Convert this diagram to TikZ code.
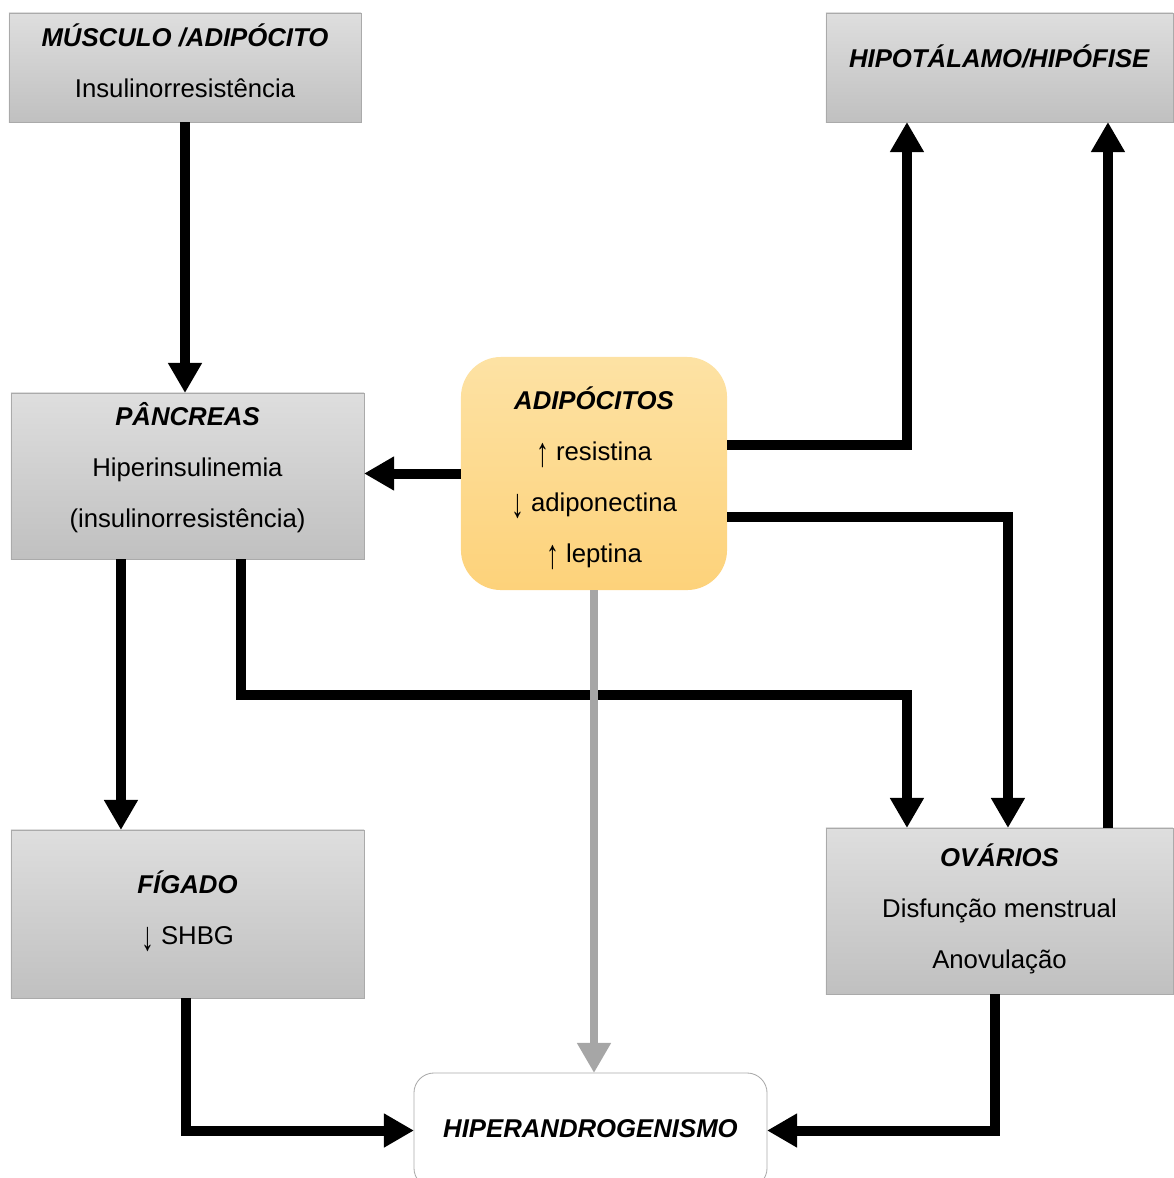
\documentclass[tikz,border=0pt]{standalone}
\usepackage{fontspec}
\setmainfont{Liberation Sans}
\usepackage{xcolor}
\usepackage{tikz}
\usetikzlibrary{arrows.meta, positioning, calc}

\definecolor{caixaTopo}{RGB}{222,222,222}
\definecolor{caixaBase}{RGB}{192,192,192}
\definecolor{caixaBorda}{RGB}{170,170,170}
\definecolor{adipoTopo}{RGB}{253,226,164}
\definecolor{adipoBase}{RGB}{253,210,122}
\definecolor{setaCinza}{RGB}{166,166,166}

\newcommand{\titulo}[1]{\textbf{\textit{#1}}}
\newcommand{\sobe}{\raisebox{-0.22em}{\scalebox{1}[1.6]{↑}}}
\newcommand{\desce}{\raisebox{-0.22em}{\scalebox{1}[1.6]{↓}}}

\tikzset{
    caixa/.style={draw=caixaBorda, line width=0.6pt, top color=caixaTopo, bottom color=caixaBase,
        inner sep=0pt, outer sep=0pt},
    caixaadipo/.style={caixa, draw=none, top color=adipoTopo, bottom color=adipoBase, rounded corners=1cm},
    caixafinal/.style={caixa, fill=white, top color=white, bottom color=white, rounded corners=0.5cm},
    texto/.style={align=center, inner sep=0pt, font=\fontsize{18.3}{36.3}\selectfont},
    seta/.style={line width=0.25cm, -{Triangle[length=0.75cm, width=0.8cm]}},
    setacinza/.style={seta, draw=setaCinza, line width=0.22cm}
}

\begin{document}
\begin{tikzpicture}[x=0.025cm, y=-0.025cm]
    \useasboundingbox (0,0) rectangle (1173,1178);

    % caixas
    \node[caixa, minimum width=8.8cm, minimum height=2.725cm] (musculo) at (185,67.5) {};
    \node[caixa, minimum width=8.675cm, minimum height=2.725cm] (hipo) at (999.5,67.5) {};
    \node[caixa, minimum width=8.825cm, minimum height=4.15cm] (pancreas) at (187.5,476) {};
    \node[caixaadipo, minimum width=6.65cm, minimum height=5.825cm] (adipo) at (594,473.5) {};
    \node[caixa, minimum width=8.825cm, minimum height=4.2cm] (figado) at (187.5,914) {};
    \node[caixa, minimum width=8.675cm, minimum height=4.15cm] (ovarios) at (999.5,911) {};
    \node[caixafinal, minimum width=8.825cm, minimum height=2.875cm] (hiper) at (590.5,1130.5) {};

    % textos
    \node[texto] (musculoT) at (185,61) {\titulo{MÚSCULO /ADIPÓCITO}\\Insulinorresistência};
    \node[texto] (hipoT) at (999.5,56) {\titulo{HIPOTÁLAMO/HIPÓFISE}};
    \node[texto] (pancreasT) at (187.5,468) {\titulo{PÂNCREAS}\\Hiperinsulinemia\\(insulinorresistência)};
    \node[texto] (adipoT) at (594,478) {\titulo{ADIPÓCITOS}\\\sobe\ resistina\\\desce\ adiponectina\\\sobe\ leptina};
    \node[texto] (figadoT) at (187.5,911) {\titulo{FÍGADO}\\\desce\ SHBG};
    \node[texto] (ovariosT) at (999.5,909) {\titulo{OVÁRIOS}\\Disfunção menstrual\\Anovulação};
    \node[texto] (hiperT) at (590.5,1129) {\titulo{HIPERANDROGENISMO}};

    % setas
    \draw[seta] (musculo.south) -- (musculo.south |- pancreas.north);
    \draw[seta] (adipo.west) -- (adipo.west -| pancreas.east);
    \draw[seta] ($(adipo.north east)+(0,88)$) -| ($(hipo.south west)+(81,0)$);
    \draw[seta] ($(adipo.north east)+(0,160)$) -| ($(ovarios.north west)+(182,0)$);
    \draw[seta] ($(pancreas.south west)+(110,0)$) -- ($(figado.north west)+(110,0)$);
    \draw[seta] ($(pancreas.south west)+(230,0)$) -- ++(0,136) -| ($(ovarios.north west)+(81,0)$);
    \draw[seta] ($(ovarios.north west)+(282,0)$) -- ($(hipo.south west)+(282,0)$);
    \draw[seta] ($(figado.south west)+(175,0)$) |- (hiper.west);
    \draw[seta] ($(ovarios.south west)+(169,0)$) |- (hiper.east);
    \draw[setacinza] (adipo.south) -- (adipo.south |- hiper.north);
\end{tikzpicture}
\end{document}
